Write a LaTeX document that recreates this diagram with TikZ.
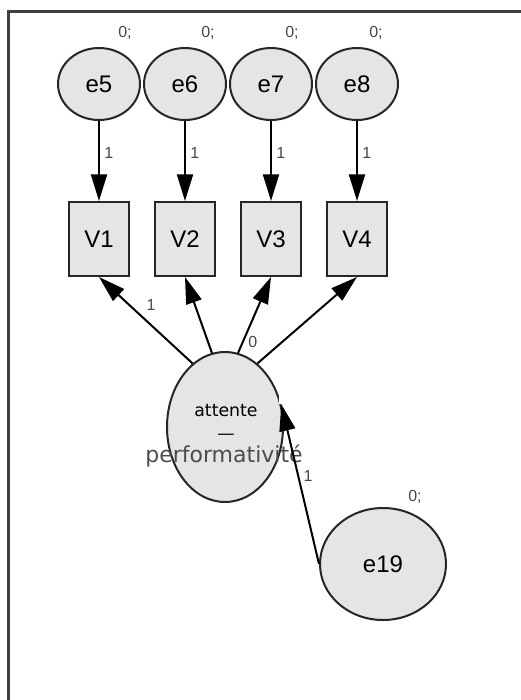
\documentclass[tikz,border=0pt]{standalone}
\usepackage{fontspec}
\setmainfont{Liberation Sans}
\newfontfamily\dejavu{DejaVu Sans}
\usetikzlibrary{arrows.meta,shapes.geometric,positioning}

\begin{document}
\begin{tikzpicture}[x=0.75pt,y=-0.75pt,
      err/.style={
        ellipse,draw=black!85,fill=gray!20,line width=1.5pt,inner sep=0pt,
        minimum width=61.5pt,minimum height=54pt,font=\fontsize{18}{18}\selectfont
      },
      obs/.style={
        rectangle,draw=black!85,fill=gray!20,line width=1.5pt,inner sep=0pt,
        minimum width=45pt,minimum height=55.5pt,font=\fontsize{18}{18}\selectfont
      },
      load/.style={-{Triangle[length=20pt,width=12pt]},line width=1.5pt},
      coef/.style={text=black!72,font=\fontsize{12}{12}\selectfont}
    ]
    \useasboundingbox (0,0) rectangle (521,700);
    \draw [line width=1.6pt,black!75] (8.5,700) -- (8.5,11.5) -- (521,11.5);
    % error terms and indicators
    \node [err] (e5) at (99,84) {e5};
    \node [err, right=1.5pt of e5] (e6) {e6};
    \node [err, right=1.5pt of e6] (e7) {e7};
    \node [err, right=1.5pt of e7] (e8) {e8};
    \node [coef] (m5) at (125,33) {0;};
    \node [coef] (m6) at (208,33) {0;};
    \node [coef] (m7) at (292,33) {0;};
    \node [coef] (m8) at (376,33) {0;};
    \node [obs, below=60pt of e5] (v1) {V1};
    \node [obs, below=60pt of e6] (v2) {V2};
    \node [obs, below=60pt of e7] (v3) {V3};
    \node [obs, below=60pt of e8] (v4) {V4};
    \draw [load] (e5) -- (v1) node [coef, pos=0.4, right] {1};
    \draw [load] (e6) -- (v2) node [coef, pos=0.4, right] {1};
    \draw [load] (e7) -- (v3) node [coef, pos=0.4, right] {1};
    \draw [load] (e8) -- (v4) node [coef, pos=0.4, right] {1};
    % latent factor
    \node [err, minimum width=87pt, minimum height=112.5pt] (att) at (225,427) {};
    \node [font=\dejavu\fontsize{13}{13}\selectfont] (att1) at (226,411) {attente};
    \node [font=\dejavu\fontsize{13}{13}\selectfont] (att2) at (226,437) {—};
    \node [font=\dejavu\fontsize{16.5}{16.5}\selectfont, text=black!70] (att3) at (224,456) {performativité};
    \draw [load] (att.117) -- (v1.south) node [coef, pos=0.55, above right] {1};
    \draw [load] (att.100) -- (v2.south);
    \draw [load] (att.80) -- (v3.south) node [coef, pos=0.15, right] {0};
    \draw [load] (att.63) -- (v4.south);
    \fill [white] (279,386) rectangle (289,404);
    % residual of the factor
    \node [err, minimum width=94.5pt, minimum height=84pt] (e19) at (383,564) {e19};
    \node [coef] (m19) at (415,497) {0;};
    \draw [load] (e19.west) -- (att.22) node [coef, pos=0.55, right] {1};
  \end{tikzpicture}
\end{document}
